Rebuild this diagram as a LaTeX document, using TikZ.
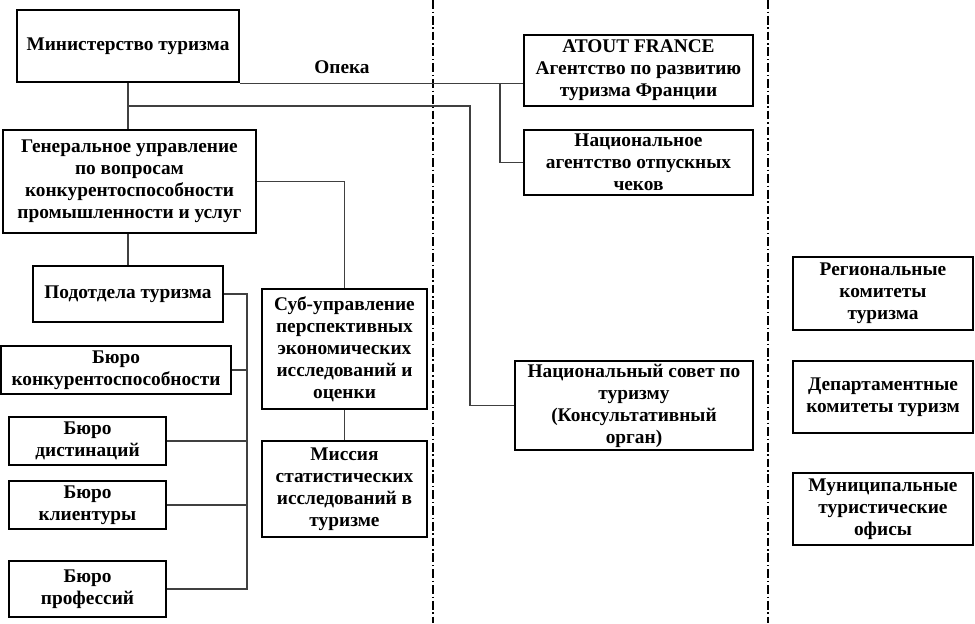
\documentclass[tikz,border=0pt]{standalone}
\usepackage{fontspec}
\setmainfont{Liberation Serif}
\usepackage{tikz}
\usetikzlibrary{calc}
\tikzset{
	box/.style={draw, line width=1.4pt, align=center, inner sep=1pt, font=\bfseries\fontsize{11}{12.5}\selectfont},
	link/.style={line width=0.7pt, color=black!75},
	border/.style={line width=1pt, dash pattern=on 5pt off 1.6pt on 0.8pt off 1.6pt}
}

\begin{document}
\begin{tikzpicture}[x=0.02cm, y=-0.02cm]
			%%%%% START %%%%%
			
			\useasboundingbox (0, 0) rectangle (975, 623);
			
			\draw[border] (433, 0) -- (433, 623);
			\draw[border] (768, 0) -- (768, 623);
			
			\node[box, minimum width=4.44cm, minimum height=1.44cm] (min) at (128, 46) {Министерство туризма};
			\node[box, minimum width=5.06cm, minimum height=2.06cm] (gen) at (129.5, 181.5) {Генеральное управление\\по вопросам\\конкурентоспособности\\промышленности и услуг};
			\node[box, minimum width=3.8cm, minimum height=1.12cm] (podot) at (128, 294) {Подотдела туризма};
			\node[box, minimum width=4.6cm, minimum height=0.96cm] (konk) at (116, 370) {Бюро\\конкурентоспособности};
			\node[box, minimum width=3.14cm, minimum height=0.96cm] (dist) at (87.5, 441) {Бюро\\дистинаций};
			\node[box, minimum width=3.14cm, minimum height=0.96cm] (klient) at (87.5, 505) {Бюро\\клиентуры};
			\node[box, minimum width=3.14cm, minimum height=1.12cm] (prof) at (87.5, 589) {Бюро\\профессий};
			\node[box, minimum width=3.3cm, minimum height=2.4cm] (sub) at (344.5, 349) {Суб-управление\\перспективных\\экономических\\исследований и\\оценки};
			\node[box, minimum width=3.3cm, minimum height=1.92cm] (miss) at (344.5, 489) {Миссия\\статистических\\исследований в\\туризме};
			
			\node[box, minimum width=4.58cm, minimum height=1.42cm] (atout) at (638.5, 70.5) {ATOUT FRANCE\\Агентство по развитию\\туризма Франции};
			\node[box, minimum width=4.58cm, minimum height=1.3cm] (agency) at (638.5, 162.5) {Национальное\\агентство отпускных\\чеков};
			\node[box, minimum width=4.76cm, minimum height=1.78cm] (council) at (634, 405.5) {Национальный совет по\\туризму\\(Консультативный\\орган)};
			
			\node[box, minimum width=3.6cm, minimum height=1.46cm] (region) at (883, 293.5) {Региональные\\комитеты\\туризма};
			\node[box, minimum width=3.6cm, minimum height=1.44cm] (depart) at (883, 397) {Департаментные\\комитеты туризм};
			\node[box, minimum width=3.6cm, minimum height=1.44cm] (munic) at (883, 509) {Муниципальные\\туристические\\офисы};
			
			\node[font=\bfseries\fontsize{11}{12.5}\selectfont] (opeka) at (342, 67) {Опека};
			
			\coordinate (opk) at (500, 0);
			\coordinate (tap) at (128, 106);
			\coordinate (cns) at (470, 106);
			\coordinate (bus) at (247, 294);
			
			\draw[link] (min.south) -- (min.south |- gen.north);
			\draw[link] (min.south east) -- (min.south east -| opk) |- (agency.west);
			\draw[link] (min.south east -| opk) -- (min.south east -| atout.west);
			\draw[link] (tap) -- (cns) |- (council.west);
			
			\draw[link] (gen.south -| podot.north) -- (podot.north);
			\draw[link] (gen.east) -| (sub.north);
			\draw[link] (sub.south) -- (miss.north);
			
			\draw[link] (podot.east) -- (bus) -- (bus |- prof.east) -- (prof.east);
			\draw[link] (konk.east) -- (konk.east -| bus);
			\draw[link] (dist.east) -- (dist.east -| bus);
			\draw[link] (klient.east) -- (klient.east -| bus);
			
			%%%%% END %%%%%
\end{tikzpicture}
\end{document}
